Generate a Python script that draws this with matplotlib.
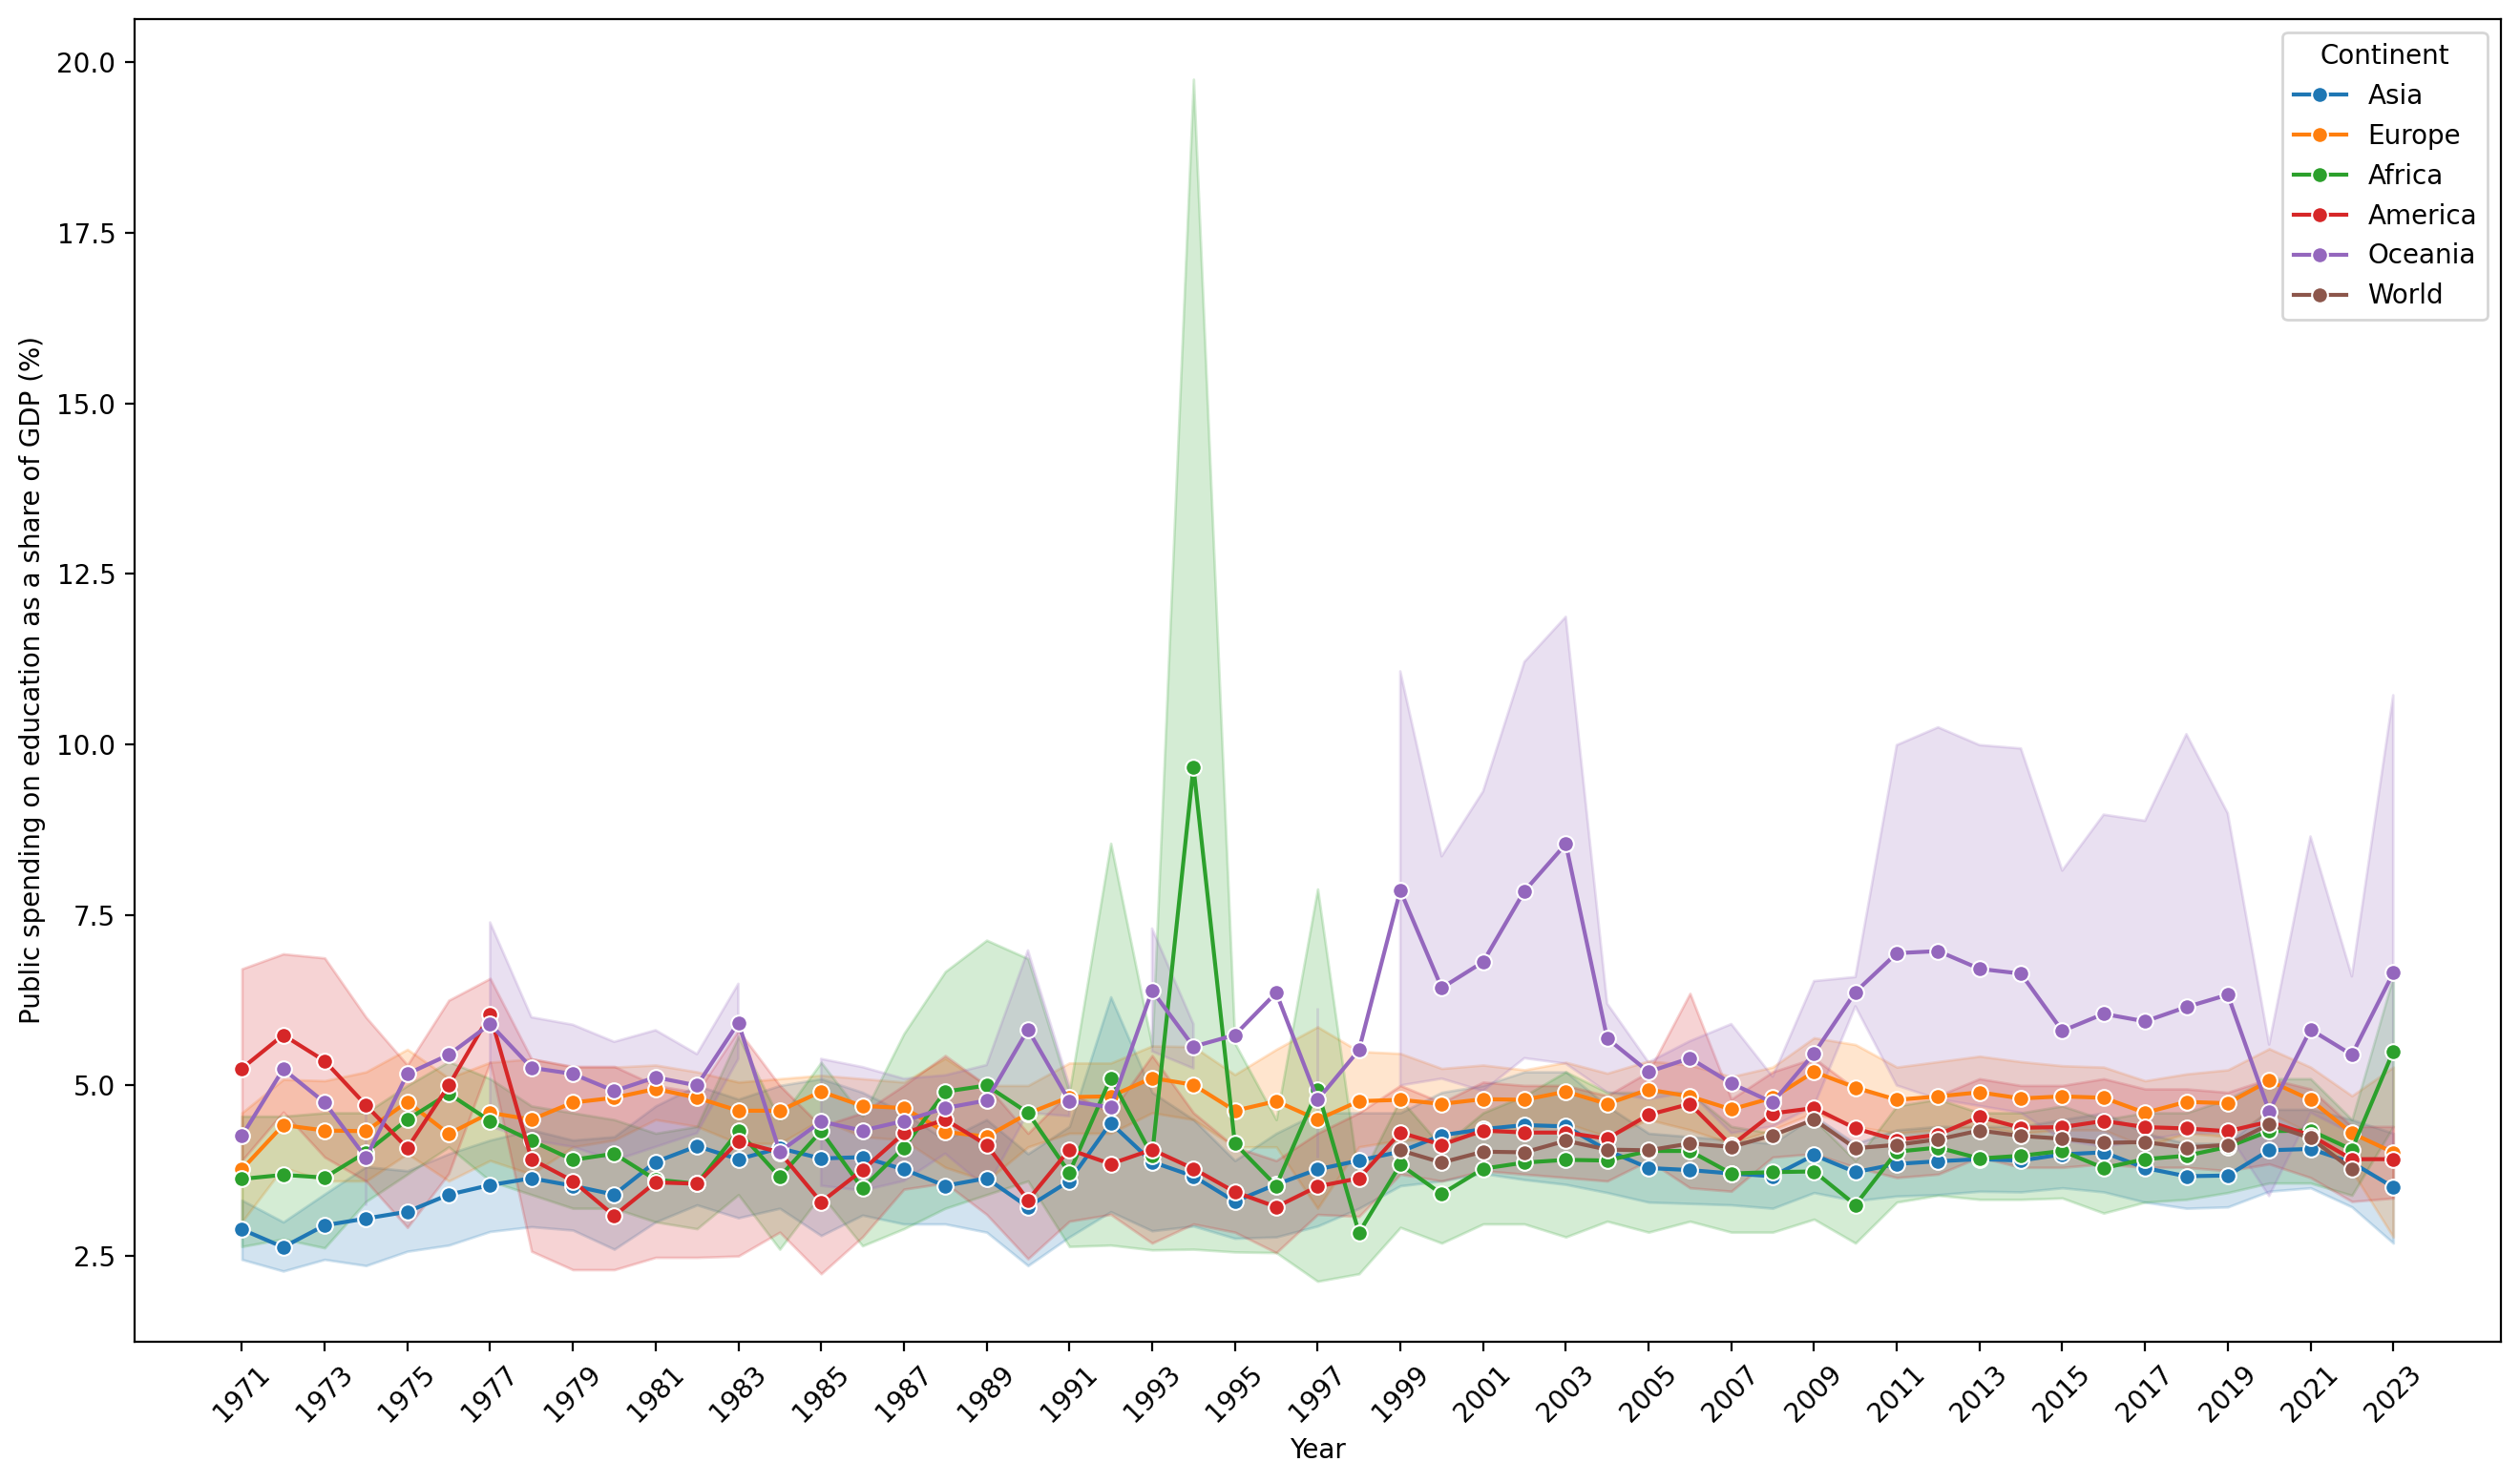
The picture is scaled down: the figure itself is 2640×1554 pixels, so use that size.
import numpy as np
import matplotlib
matplotlib.use("Agg")
import matplotlib.pyplot as plt

nan = np.nan
years = list(range(1971, 2024))

# mean values per continent
asia = [2.89, 2.63, 2.95, 3.05, 3.15, 3.40, 3.54, 3.64, 3.53, 3.40,
        3.88, 4.11, 3.92, 4.08, 3.93, 3.95, 3.77, 3.53, 3.64, 3.22,
        3.60, 4.45, 3.88, 3.67, 3.30, 3.55, 3.77, 3.90, 4.03, 4.27,
        4.36, 4.42, 4.40, 4.05, 3.79, 3.76, 3.71, 3.67, 3.98, 3.73,
        3.85, 3.89, 3.92, 3.90, 3.99, 4.02, 3.79, 3.67, 3.68, 4.05,
        4.07, 3.87, 3.51]
asia_lo = [2.45, 2.28, 2.45, 2.36, 2.57, 2.66, 2.86, 2.93, 2.88, 2.60,
           3.00, 3.25, 3.06, 3.20, 2.80, 3.10, 2.97, 2.97, 2.85, 2.36,
           2.78, 3.15, 2.87, 2.94, 2.76, 2.78, 2.94, 3.20, 3.53, 3.60,
           3.71, 3.62, 3.55, 3.43, 3.29, 3.27, 3.25, 3.20, 3.43, 3.31,
           3.38, 3.40, 3.45, 3.44, 3.50, 3.44, 3.29, 3.20, 3.22, 3.45,
           3.50, 3.22, 2.69]
asia_hi = [3.32, 3.00, 3.41, 3.81, 3.75, 4.00, 4.20, 4.35, 4.20, 4.25,
           4.70, 5.00, 4.80, 5.00, 5.10, 4.90, 4.60, 4.20, 4.50, 4.00,
           4.40, 6.30, 4.90, 4.50, 3.90, 4.30, 4.60, 4.60, 4.60, 4.90,
           5.00, 5.20, 5.20, 4.70, 4.30, 4.25, 4.20, 4.15, 4.55, 4.15,
           4.35, 4.40, 4.40, 4.40, 4.50, 4.60, 4.30, 4.15, 4.15, 4.65,
           4.65, 4.50, 4.30]

europe = [3.77, 4.42, 4.34, 4.33, 4.76, 4.29, 4.60, 4.50, 4.75, 4.82,
          4.95, 4.82, 4.63, 4.63, 4.91, 4.70, 4.67, 4.32, 4.25, 4.59,
          4.83, 4.84, 5.11, 5.01, 4.63, 4.77, 4.50, 4.77, 4.79, 4.73,
          4.80, 4.79, 4.91, 4.73, 4.94, 4.84, 4.65, 4.82, 5.20, 4.97,
          4.79, 4.84, 4.90, 4.81, 4.84, 4.82, 4.60, 4.76, 4.74, 5.07,
          4.79, 4.30, 4.02]
europe_lo = [3.00, 3.80, 3.60, 3.60, 4.00, 3.60, 3.90, 3.70, 4.10, 4.20,
             4.50, 4.40, 4.15, 4.15, 4.50, 4.25, 4.20, 3.80, 3.60, 4.10,
             4.30, 4.30, 4.60, 4.50, 4.10, 4.10, 3.20, 4.10, 4.20, 4.20,
             4.30, 4.35, 4.45, 4.25, 4.50, 4.35, 4.15, 4.35, 4.60, 4.40,
             4.30, 4.35, 4.40, 4.30, 4.35, 4.35, 4.10, 4.30, 4.25, 4.60,
             4.30, 3.75, 2.78]
europe_hi = [4.60, 5.09, 5.07, 5.20, 5.53, 5.11, 5.34, 5.39, 5.27, 5.27,
             5.30, 5.20, 5.05, 5.10, 5.15, 5.10, 5.05, 5.40, 5.00, 5.00,
             5.33, 5.33, 5.58, 5.57, 5.16, 5.53, 5.86, 5.50, 5.47, 5.25,
             5.30, 5.23, 5.34, 5.18, 5.36, 5.30, 5.13, 5.27, 5.70, 5.60,
             5.27, 5.35, 5.43, 5.35, 5.29, 5.27, 5.07, 5.17, 5.23, 5.54,
             5.27, 4.85, 5.27]

africa = [3.63, 3.69, 3.65, 4.02, 4.50, 4.88, 4.48, 4.19, 3.91, 4.00,
          3.62, 3.56, 4.33, 3.66, 4.33, 3.49, 4.09, 4.91, 5.00, 4.60,
          3.72, 5.11, 3.97, 9.67, 4.15, 3.53, 4.93, 2.84, 3.84, 3.41,
          3.78, 3.87, 3.91, 3.90, 4.04, 4.04, 3.71, 3.73, 3.74, 3.25,
          4.03, 4.09, 3.93, 3.97, 4.04, 3.79, 3.92, 3.97, 4.10, 4.33,
          4.34, 4.06, 5.50]
africa_lo = [2.64, 2.75, 2.62, 3.30, 3.70, 4.10, 3.60, 3.40, 3.20, 3.20,
             3.00, 2.90, 3.40, 2.60, 3.40, 2.65, 2.90, 3.20, 3.40, 3.60,
             2.64, 2.66, 2.59, 2.60, 2.56, 2.55, 2.13, 2.24, 2.92, 2.69,
             2.97, 2.97, 2.78, 3.01, 2.85, 3.01, 2.85, 2.85, 3.04, 2.69,
             3.29, 3.39, 3.33, 3.33, 3.35, 3.13, 3.29, 3.33, 3.43, 3.57,
             3.57, 3.39, 4.40]
africa_hi = [4.55, 4.55, 4.60, 4.60, 5.00, 5.35, 5.10, 4.70, 4.60, 4.50,
             4.30, 4.40, 5.72, 4.50, 5.34, 4.55, 5.76, 6.67, 7.13, 6.86,
             4.90, 8.55, 5.58, 19.75, 5.62, 4.50, 7.88, 3.60, 4.80, 4.10,
             4.60, 4.85, 5.20, 4.90, 4.90, 4.90, 4.40, 4.30, 4.50, 3.90,
             4.70, 4.80, 4.60, 4.60, 4.70, 4.50, 4.60, 4.60, 4.80, 5.10,
             5.10, 4.50, 6.60]

america = [5.25, 5.74, 5.36, 4.71, 4.08, 5.00, 6.04, 3.92, 3.60, 3.09,
           3.58, 3.56, 4.18, 4.02, 3.29, 3.76, 4.30, 4.50, 4.13, 3.32,
           4.06, 3.85, 4.06, 3.78, 3.44, 3.22, 3.52, 3.64, 4.31, 4.13,
           4.34, 4.31, 4.31, 4.22, 4.57, 4.73, 4.12, 4.59, 4.67, 4.37,
           4.20, 4.28, 4.54, 4.38, 4.39, 4.48, 4.39, 4.37, 4.33, 4.47,
           4.27, 3.92, 3.92]
america_lo = [3.90, 4.61, 3.95, 3.60, 2.92, 3.71, 5.34, 2.57, 2.30, 2.30,
              2.48, 2.48, 2.50, 2.85, 2.24, 2.78, 3.48, 3.57, 3.11, 2.46,
              3.01, 3.11, 2.69, 2.97, 2.85, 2.55, 3.11, 3.08, 3.70, 3.60,
              3.75, 3.70, 3.65, 3.60, 3.90, 3.50, 3.45, 3.95, 4.00, 3.80,
              3.65, 3.70, 3.95, 3.80, 3.80, 3.85, 3.80, 3.80, 3.75, 3.85,
              3.65, 3.30, 3.35]
america_hi = [6.71, 6.93, 6.87, 6.00, 5.30, 6.25, 6.57, 5.39, 5.28, 5.28,
              5.00, 4.90, 5.81, 5.00, 4.40, 4.60, 5.00, 5.44, 5.00, 4.30,
              4.90, 4.60, 5.44, 4.60, 4.10, 3.90, 4.30, 4.60, 5.00, 4.75,
              5.05, 5.00, 5.00, 4.85, 5.20, 6.35, 4.80, 5.20, 5.40, 4.95,
              4.80, 4.85, 5.10, 5.00, 5.00, 5.10, 4.95, 4.95, 4.90, 5.10,
              4.95, 4.40, 4.40]

oceania = [4.26, 5.24, 4.75, 3.94, 5.17, 5.45, 5.90, 5.26, 5.17, 4.92,
           5.12, 5.00, 5.92, 4.03, 4.47, 4.34, 4.48, 4.67, 4.78, 5.82,
           4.77, 4.68, 6.39, 5.57, 5.74, 6.36, 4.79, 5.52, 7.86, 6.43,
           6.81, 7.85, 8.54, 5.69, 5.20, 5.40, 5.03, 4.75, 5.47, 6.37,
           6.94, 6.97, 6.71, 6.64, 5.80, 6.05, 5.94, 6.15, 6.33, 4.62,
           5.82, 5.45, 6.65]
oceania_lo = [nan, nan, nan, 3.25, nan, nan, 4.40, 4.20, 4.10, 3.90,
              4.10, 4.30, 5.39, nan, 3.53, 3.46, 3.60, 4.00, 3.50, 4.60,
              4.55, nan, 5.50, 5.25, nan, nan, 3.95, nan, 5.00, 5.10,
              4.92, 5.40, 5.32, 4.90, 4.80, 4.90, 4.30, 4.40, 4.70, 6.16,
              5.00, 4.80, 4.70, 4.60, 4.20, 4.10, 4.20, 4.30, 4.30, 3.38,
              4.60, 4.30, 4.00]
oceania_hi = [nan, nan, nan, 4.65, nan, nan, 7.39, 6.00, 5.89, 5.64,
              5.81, 5.46, 6.49, nan, 5.39, 5.27, 5.10, 5.15, 5.30, 6.98,
              5.00, nan, 7.30, 5.90, nan, nan, 6.14, nan, 11.07, 8.36,
              9.31, 11.21, 11.87, 6.20, 5.34, 5.65, 5.90, 5.13, 6.53, 6.59,
              9.99, 10.25, 9.99, 9.94, 8.15, 8.97, 8.88, 10.15, 8.99, 5.60,
              8.65, 6.60, 10.72]

world = [nan] * 28 + [4.05, 3.87,
         4.03, 4.02, 4.19, 4.06, 4.05, 4.15, 4.10, 4.27, 4.50, 4.08,
         4.13, 4.21, 4.34, 4.26, 4.22, 4.16, 4.17, 4.09, 4.13, 4.43,
         4.23, 3.77, nan]

continents = ["Asia", "Europe", "Africa", "America", "Oceania", "World"]
means = [asia, europe, africa, america, oceania, world]
lows = [asia_lo, europe_lo, africa_lo, america_lo, oceania_lo, None]
highs = [asia_hi, europe_hi, africa_hi, america_hi, oceania_hi, None]
colors = ["#1f77b4", "#ff7f0e", "#2ca02c", "#d62728", "#9467bd", "#8c564b"]

fig = plt.figure(figsize=(13.2, 7.77), dpi=200)
ax = fig.add_axes([0.0533, 0.0955, 0.9391, 0.8916])

for name, m, lo, hi, c in zip(continents, means, lows, highs, colors):
    if lo is not None:
        ax.fill_between(years, lo, hi, color=c, alpha=0.2)
    ax.plot(years, m, color=c, marker="o", markersize=6,
            markeredgecolor="white", markeredgewidth=0.75, label=name)

ax.set_xticks(years[::2])
ax.set_xticklabels([str(y) for y in years[::2]], rotation=45)
ax.set_yticks(np.arange(2.5, 20.01, 2.5))
ax.set_xlabel("Year")
ax.set_ylabel("Public spending on education as a share of GDP (%)")
ax.legend(title="Continent", loc="upper right")

fig.savefig("out.png", dpi=200)
